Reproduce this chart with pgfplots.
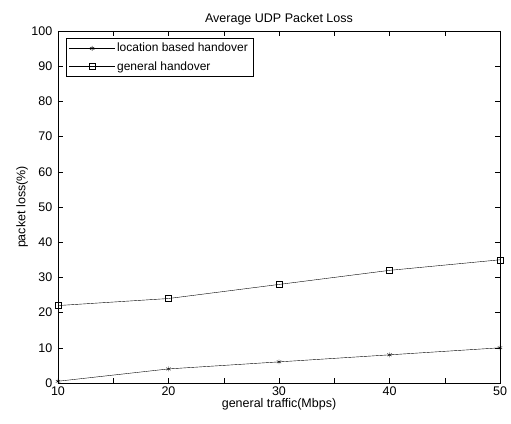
\documentclass[border=0pt]{standalone}
\usepackage{fontspec}
\setmainfont{Liberation Sans}
\usepackage{pgfplots}
\pgfplotsset{compat=1.18}

\begin{document}
\begin{tikzpicture}
\begin{axis}[
  scale only axis,
  width=442pt, height=352pt,
  xmin=10, xmax=50, ymin=0, ymax=100,
  xtick={10,20,30,40,50}, minor xtick={15,25,35,45},
  ytick={0,10,...,100},
  tick align=inside, tick pos=both,
  major tick length=5pt, minor tick length=5pt,
  tick style={black, thin},
  /pgf/number format/assume math mode=true,
  tick label style={font=\fontsize{12.5}{14}\selectfont, inner sep=1pt},
  xticklabel style={yshift=-3pt},
  yticklabel style={xshift=-4.5pt},
  label style={font=\fontsize{12.5}{14}\selectfont},
  title style={font=\fontsize{12.5}{14}\selectfont, yshift=-4pt},
  title={Average UDP Packet Loss},
  xlabel={general traffic(Mbps)},
  ylabel={packet loss(\%)},
  xlabel style={yshift=2pt},
  ylabel style={yshift=-1pt},
  axis line style={black, thin},
  legend cell align=left,
  legend style={font=\fontsize{12}{14}\selectfont, draw=black, thin,
    inner xsep=3pt, inner ysep=3pt, row sep=4pt,
    at={(0.018,0.98)}, anchor=north west},
  legend image code/.code={%
    \draw[mark repeat=2, mark phase=2, #1]
      plot coordinates {(0cm,0cm) (0.8cm,0cm) (1.6cm,0cm)};},
]
\addplot[black, thin, sharp plot, mark=asterisk, mark size=2.5pt]
  coordinates {(10,0.5)(20,4)(30,6)(40,8)(50,10)};
\addlegendentry{location based handover}
\addplot[black, thin, sharp plot, mark=square, mark size=3pt]
  coordinates {(10,22)(20,24)(30,28)(40,32)(50,35)};
\addlegendentry{general handover}
\end{axis}
\path (-58pt,-40pt) rectangle (453pt,383pt);
\end{tikzpicture}
\end{document}
